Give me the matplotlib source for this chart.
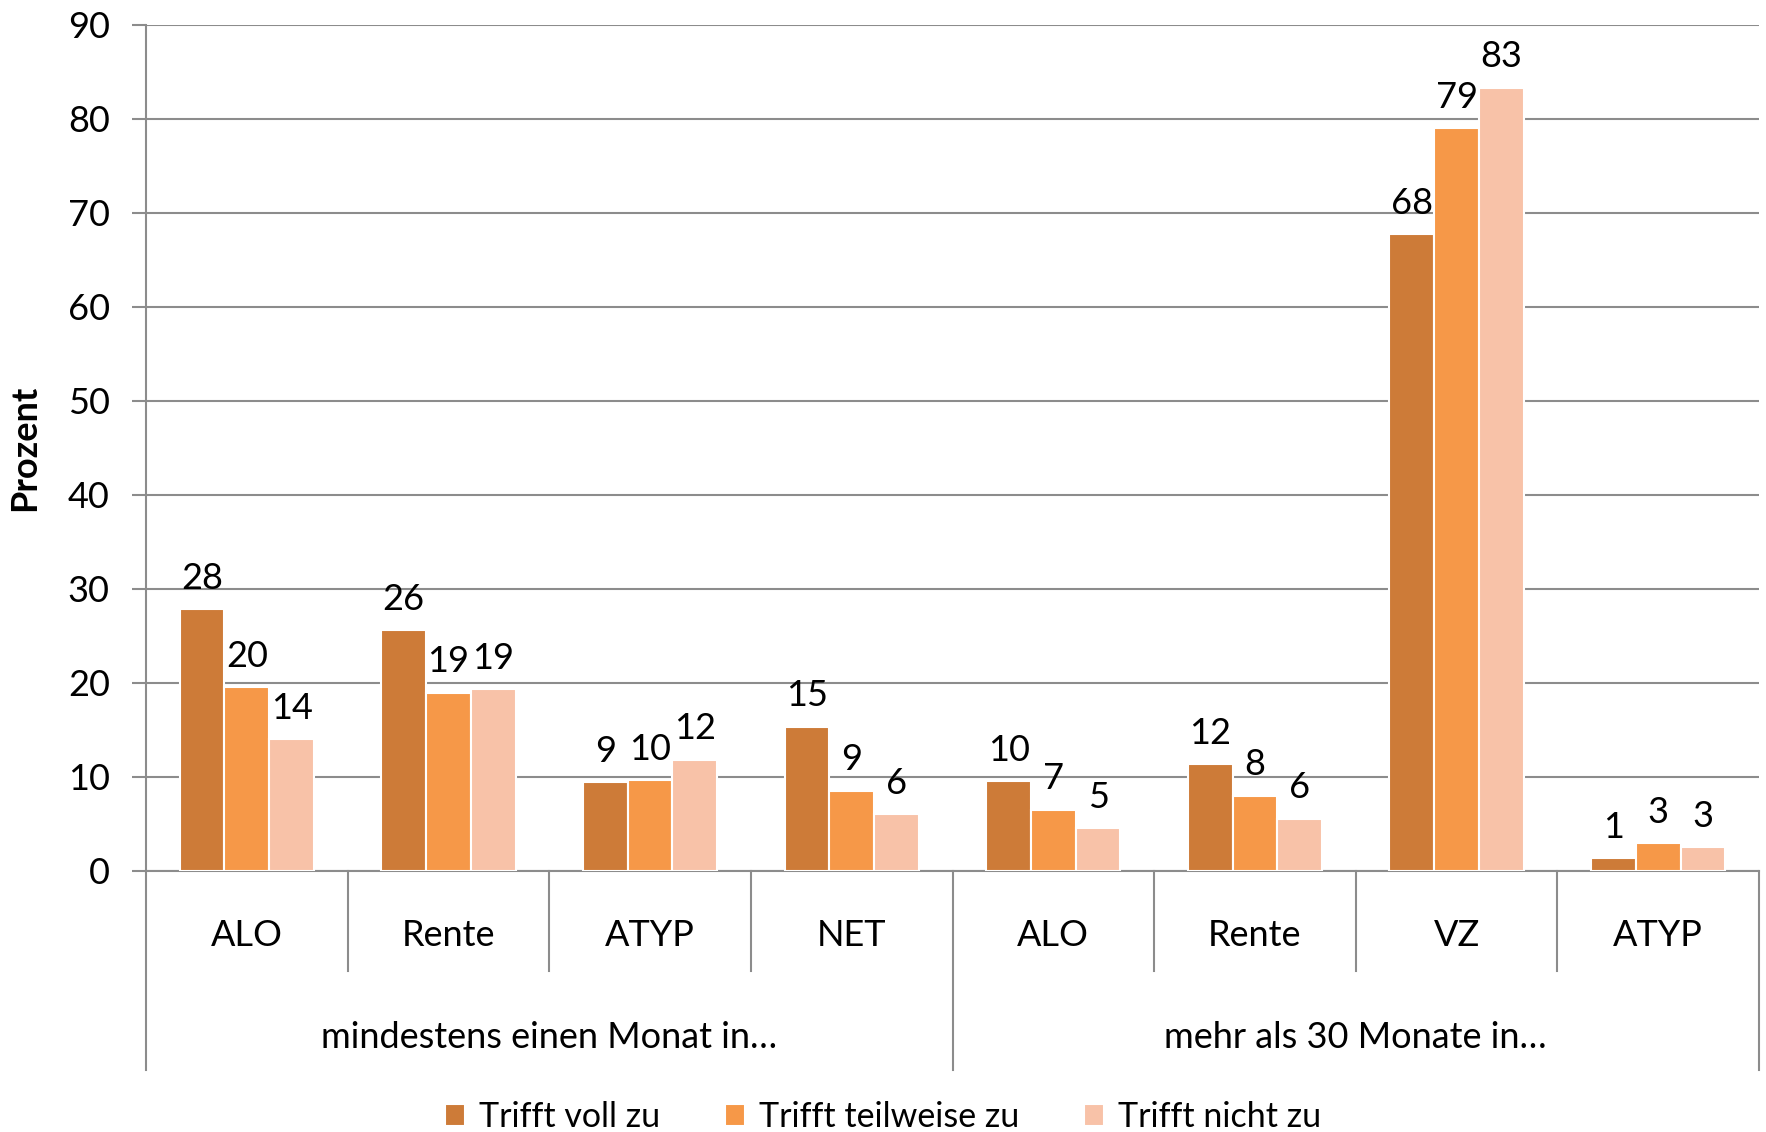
import matplotlib
matplotlib.use("Agg")
import matplotlib.pyplot as plt
import matplotlib.transforms as mtransforms
import numpy as np

plt.rcParams['font.family'] = ['Lato', 'DejaVu Sans']

categories = ["ALO", "Rente", "ATYP", "NET", "ALO", "Rente", "VZ", "ATYP"]
groups = ["mindestens einen Monat in…", "mehr als 30 Monate in…"]
group_sizes = [4, 4]
series_names = ["Trifft voll zu", "Trifft teilweise zu", "Trifft nicht zu"]
voll = [27.8, 25.6, 9.4, 15.3, 9.5, 11.3, 67.7, 1.3]
teil = [19.5, 18.9, 9.6, 8.5, 6.5, 8.0, 79.0, 2.9]
nicht = [14.0, 19.3, 11.8, 6.0, 4.5, 5.5, 83.3, 2.5]
voll_labels = ["28", "26", "9", "15", "10", "12", "68", "1"]
teil_labels = ["20", "19", "10", "9", "7", "8", "79", "3"]
nicht_labels = ["14", "19", "12", "6", "5", "6", "83", "3"]
yticks = [0, 10, 20, 30, 40, 50, 60, 70, 80, 90]

colors = ["#CD7B38", "#F69848", "#F8C2A8"]
FS = 26

W, H = 1766, 1132
fig = plt.figure(figsize=(W / 100, H / 100), dpi=100)
ax_left, ax_right = 146 / W, 1759 / W
ax_top, ax_bot = 1 - 24.8 / H, 1 - 870.7 / H
ax = fig.add_axes([ax_left, ax_bot, ax_right - ax_left, ax_top - ax_bot])

x = np.arange(len(categories))
bw = 0.222
series = [voll, teil, nicht]
labels = [voll_labels, teil_labels, nicht_labels]
for i, (vals, labs, col) in enumerate(zip(series, labels, colors)):
    pos = x + (i - 1) * bw
    ax.bar(pos, vals, width=bw, color=col, edgecolor="white",
           linewidth=1.5, zorder=3, label=series_names[i])
    for px, v, lab in zip(pos, vals, labs):
        ax.annotate(lab, (px, v), xytext=(0, 10.5), textcoords="offset points",
                    ha="center", va="bottom", fontsize=FS, color="black",
                    zorder=4)

ax.set_xlim(-0.5, len(categories) - 0.5)
ax.set_ylim(0, 90)
ax.set_yticks(yticks)
ax.set_yticklabels([str(t) for t in yticks], fontsize=FS)
ax.yaxis.grid(True, color="#8C8C8C", linewidth=1.5, zorder=0)
ax.tick_params(axis="y", length=10, width=1.5, color="#8C8C8C", pad=16)
ax.set_xticks([])
for s in ["top", "right"]:
    ax.spines[s].set_visible(False)
ax.spines["left"].set_color("#8C8C8C")
ax.spines["left"].set_linewidth(1.5)
ax.spines["bottom"].set_color("#8C8C8C")
ax.spines["bottom"].set_linewidth(1.5)

ax.set_ylabel("Prozent", fontsize=FS, fontweight="bold", labelpad=19)

trans = mtransforms.blended_transform_factory(ax.transData, ax.transAxes)
axh = 870.7 - 24.8
y_lvl1 = -(971 - 870.7) / axh
y_lvl2 = -(1070 - 870.7) / axh
y_txt1 = -(936 - 870.7) / axh
y_txt2 = -(1037 - 870.7) / axh

group_bounds = np.cumsum([0] + group_sizes)
for i, c in enumerate(categories):
    ax.text(i, y_txt1, c, transform=trans, ha="center", va="center",
            fontsize=FS, clip_on=False)
for b in range(1, len(categories)):
    if b in group_bounds:
        continue
    ax.plot([b - 0.5, b - 0.5], [0, y_lvl1], transform=trans, color="#8C8C8C",
            linewidth=1.5, clip_on=False)
for b in group_bounds:
    ax.plot([b - 0.5, b - 0.5], [0, y_lvl2], transform=trans, color="#8C8C8C",
            linewidth=1.5, clip_on=False)
for g, name in enumerate(groups):
    center = (group_bounds[g] + group_bounds[g + 1] - 1) / 2
    ax.text(center, y_txt2, name, transform=trans, ha="center", va="center",
            fontsize=FS, clip_on=False)

fig.legend(loc="center", bbox_to_anchor=(0.5, 1 - 1117 / H), ncol=3,
           frameon=False, fontsize=24.5, handlelength=0.6, handleheight=0.6,
           handletextpad=0.4, columnspacing=1.9)

fig.savefig("out.png", dpi=100)
